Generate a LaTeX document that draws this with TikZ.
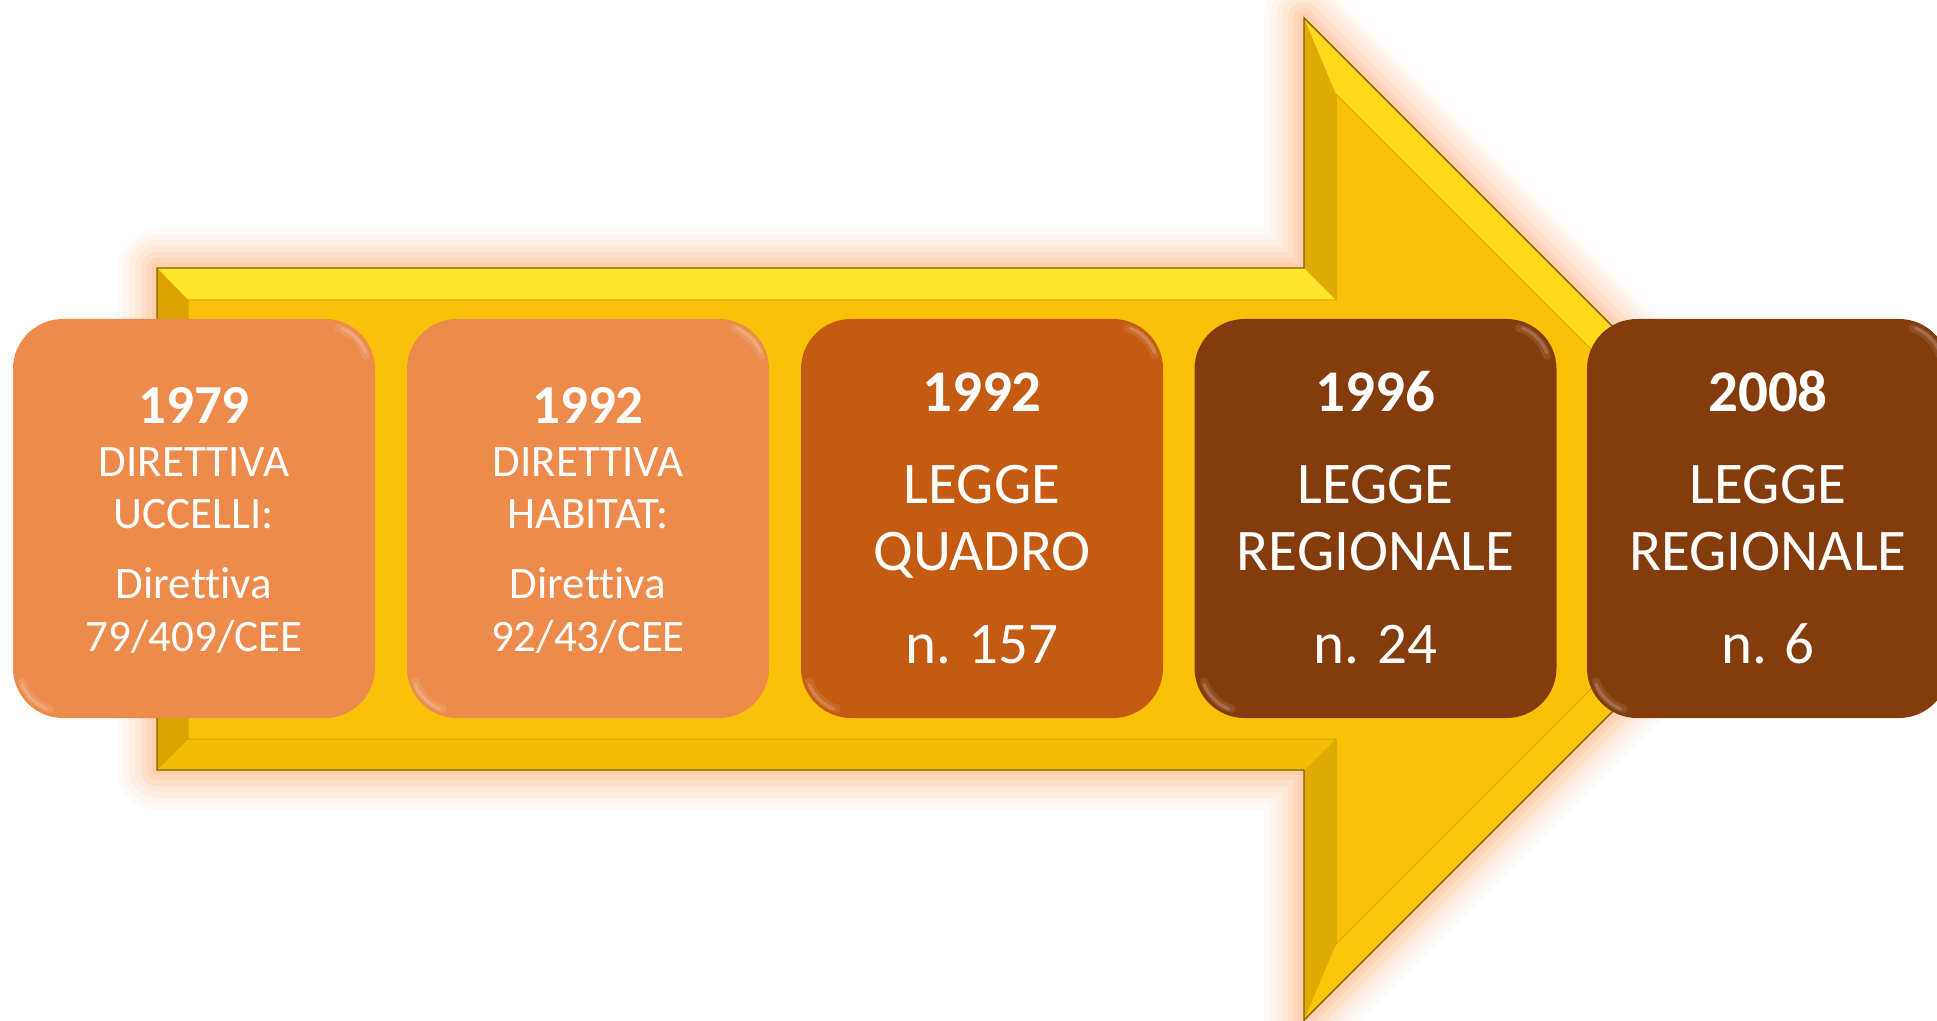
\documentclass[tikz,border=0pt]{standalone}
\usepackage{fontspec}
\setmainfont{Carlito}[Ligatures=NoCommon]
\definecolor{arrowmain}{RGB}{249,193,7}
\definecolor{bevtop}{RGB}{255,230,45}
\definecolor{bevdiagup}{RGB}{255,217,28}
\definecolor{bevdiaglow}{RGB}{250,198,10}
\definecolor{bevdark}{RGB}{224,170,4}
\definecolor{bevleft}{RGB}{218,163,0}
\definecolor{bevbottom}{RGB}{245,188,6}
\definecolor{arrowline}{RGB}{128,96,0}
\definecolor{glowc}{RGB}{252,165,100}
\definecolor{boxA}{RGB}{237,139,77}
\definecolor{boxB}{RGB}{197,90,17}
\definecolor{boxC}{RGB}{132,60,12}
\tikzset{
  box/.style={rounded corners=25pt, minimum width=181pt, minimum height=199.5pt, inner sep=0pt, draw=none},
  hlw/.style={white, opacity=0.10, line width=4pt, line cap=round},
  hln/.style={white, opacity=0.18, line width=1.6pt, line cap=round},
  yrA/.style={anchor=base, text=white, font=\fontsize{27.5}{30}\selectfont\bfseries},
  txA/.style={anchor=base, text=white, font=\fontsize{22.5}{26}\selectfont},
  yrB/.style={anchor=base, text=white, font=\fontsize{29.5}{33}\selectfont\bfseries},
  txB/.style={anchor=base, text=white, font=\fontsize{29.5}{33}\selectfont},
}
\begin{document}
\begin{tikzpicture}[x=0.5pt,y=-0.5pt]
\useasboundingbox (0,0) rectangle (1937,1021);
\clip (0,0) rectangle (1937,1021);
% outer and inner outline of the arrow
\coordinate (O1) at (157,268);
\coordinate (O2) at (1304,268);
\coordinate (O3) at (1304,18);
\coordinate (O4) at (1805,519);
\coordinate (O5) at (1304,1020);
\coordinate (O6) at (1304,770);
\coordinate (O7) at (157,770);
\coordinate (I1) at (188,300);
\coordinate (I2) at (1336,300);
\coordinate (I3) at (1336,94);
\coordinate (I4) at (1761,519);
\coordinate (I5) at (1336,944);
\coordinate (I6) at (1336,739);
\coordinate (I7) at (188,739);
% glow
\foreach \w/\o in {40/0.05,34/0.06,28/0.08,22/0.1,16/0.12,10/0.14,5/0.16}
  \draw[glowc, line width=\w*1pt, opacity=\o, line join=round]
    (O1) -- (O2) -- (O3) -- (O4) -- (O5) -- (O6) -- (O7) -- cycle;
% arrow body
\fill[arrowmain] (O1) -- (O2) -- (O3) -- (O4) -- (O5) -- (O6) -- (O7) -- cycle;
\fill[bevtop] (O1) -- (O2) -- (I2) -- (I1) -- cycle;
\fill[bevdark] (O2) -- (O3) -- (I3) -- (I2) -- cycle;
\fill[bevdiagup] (O3) -- (O4) -- (I4) -- (I3) -- cycle;
\fill[bevdiaglow] (O4) -- (O5) -- (I5) -- (I4) -- cycle;
\fill[bevdark] (O5) -- (O6) -- (I6) -- (I5) -- cycle;
\fill[bevbottom] (O6) -- (O7) -- (I7) -- (I6) -- cycle;
\fill[bevleft] (O7) -- (O1) -- (I1) -- (I7) -- cycle;
\draw[arrowline!30!arrowmain, line width=0.5pt, line join=miter]
  (I1) -- (I2) -- (I3) -- (I4) -- (I5) -- (I6) -- (I7) -- cycle;
\draw[arrowline, line width=0.7pt, line join=miter]
  (O1) -- (O2) -- (O3) -- (O4) -- (O5) -- (O6) -- (O7) -- cycle;
% boxes
\node[box, fill=boxA] (b1) at (194,518.5) {};
\node[box, fill=boxA] (b2) at (588,518.5) {};
\node[box, fill=boxB] (b3) at (982,518.5) {};
\node[box, fill=boxC] (b4) at (1375.5,518.5) {};
\node[box, fill=boxC] (b5) at (1768,518.5) {};
% soft corner highlights
\foreach \l/\r in {13/375,406/770,800/1164,1195/1556,1587/1949}{
  \draw[hlw] ({\r-50+43*cos(-72)},{369+43*sin(-72)}) arc[start angle=-72, end angle=-18, radius=43];
  \draw[hln] ({\r-50+44*cos(-68)},{369+44*sin(-68)}) arc[start angle=-68, end angle=-22, radius=44];
  \draw[hlw] ({\l+50+43*cos(108)},{668+43*sin(108)}) arc[start angle=108, end angle=162, radius=43];
  \draw[hln] ({\l+50+44*cos(112)},{668+44*sin(112)}) arc[start angle=112, end angle=158, radius=44];
}
% texts box 1
\node[yrA] (t1a) at (194,423) {1979};
\node[txA] (t1b) at (194,476) {DIRETTIVA};
\node[txA] (t1c) at (194,528) {UCCELLI:};
\node[txA] (t1d) at (194,598) {Direttiva};
\node[txA] (t1e) at (194,651) {79/409/CEE};
% texts box 2
\node[yrA] (t2a) at (588,423) {1992};
\node[txA] (t2b) at (588,476) {DIRETTIVA};
\node[txA] (t2c) at (588,528) {HABITAT:};
\node[txA] (t2d) at (588,598) {Direttiva};
\node[txA] (t2e) at (588,651) {92/43/CEE};
% texts box 3
\node[yrB] (t3a) at (982,411) {1992};
\node[txB] (t3b) at (982,503) {LEGGE};
\node[txB] (t3c) at (982,570) {QUADRO};
\node[txB] (t3d) at (982,663) {n. 157};
% texts box 4
\node[yrB] (t4a) at (1375.5,411) {1996};
\node[txB] (t4b) at (1375.5,503) {LEGGE};
\node[txB] (t4c) at (1375.5,570) {REGIONALE};
\node[txB] (t4d) at (1375.5,663) {n. 24};
% texts box 5
\node[yrB] (t5a) at (1768,411) {2008};
\node[txB] (t5b) at (1768,503) {LEGGE};
\node[txB] (t5c) at (1768,570) {REGIONALE};
\node[txB] (t5d) at (1768,663) {n. 6};
\end{tikzpicture}
\end{document}
